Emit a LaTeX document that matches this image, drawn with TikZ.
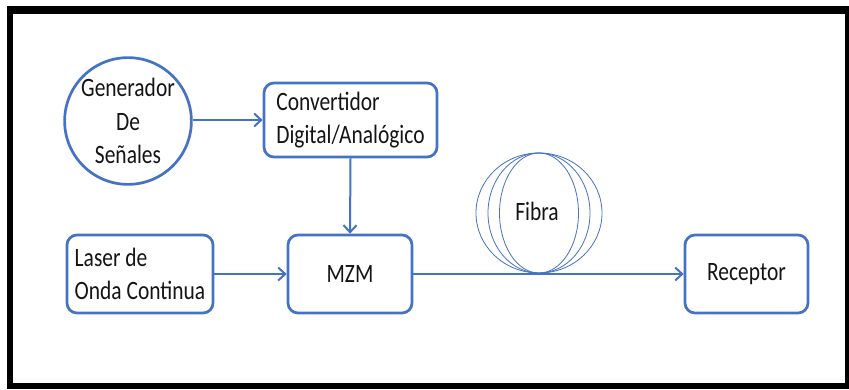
\documentclass[tikz,border=0pt]{standalone}
\usepackage{fontspec}
\usetikzlibrary{arrows.meta}
\newfontfamily\diagfont[FakeStretch=0.81]{Carlito}
\definecolor{obl}{RGB}{68,114,196}
\definecolor{txt}{RGB}{20,20,20}
\tikzset{
  blk/.style={draw=obl, line width=2.7pt, rounded corners=10pt, fill=white, text=txt,
    font=\diagfont\fontsize{26.5}{33.5}\selectfont, inner sep=0pt},
  circ/.style={draw=obl, line width=2.7pt, circle, fill=white, text=txt,
    font=\diagfont\fontsize{26.5}{33.5}\selectfont, inner sep=0pt, minimum size=126pt, align=center},
  conn/.style={draw=obl, line width=2pt, -{Straight Barb[length=7pt,width=13pt]}},
  coil/.style={draw=obl, line width=0.8pt}
}
\begin{document}
\begin{tikzpicture}[x=1pt,y=-1pt]
\useasboundingbox (0,0) rectangle (849,389);
\fill[white] (0,0) rectangle (849,389);
\fill[black] (7,6) rectangle (849,389);
\fill[white] (13,14) rectangle (845,383);

\node[circ] (gen) at (128,121) {Generador\\De\\Señales};
\node[blk, minimum width=173pt, minimum height=74pt, align=left] (conv) at (350.5,120) {Convertidor\\Digital/Analógico};
\node[blk, minimum width=146pt, minimum height=78pt, align=left] (laser) at (140,274) {Laser de\\Onda Continua};
\node[blk, minimum width=124pt, minimum height=78pt] (mzm) at (350,274) {MZM};
\node[blk, minimum width=123pt, minimum height=78pt] (rec) at (746.5,274) {Receptor};

% fiber coil
\draw[coil] (539,213) ellipse [x radius=63, y radius=60];
\draw[coil] (539,213) ellipse [x radius=51, y radius=60];
\draw[coil] (539,213) ellipse [x radius=39.5, y radius=60];
\node[font=\diagfont\fontsize{26.5}{33.5}\selectfont, text=txt] (fib) at (537,211) {Fibra};

\draw[conn] (gen.east |- conv.west) -- (conv.west);
\draw[conn] (conv.south) -- (mzm.north);
\draw[conn] (laser.east) -- (mzm.west);
\draw[conn] (mzm.east) -- (rec.west);
\end{tikzpicture}
\end{document}
